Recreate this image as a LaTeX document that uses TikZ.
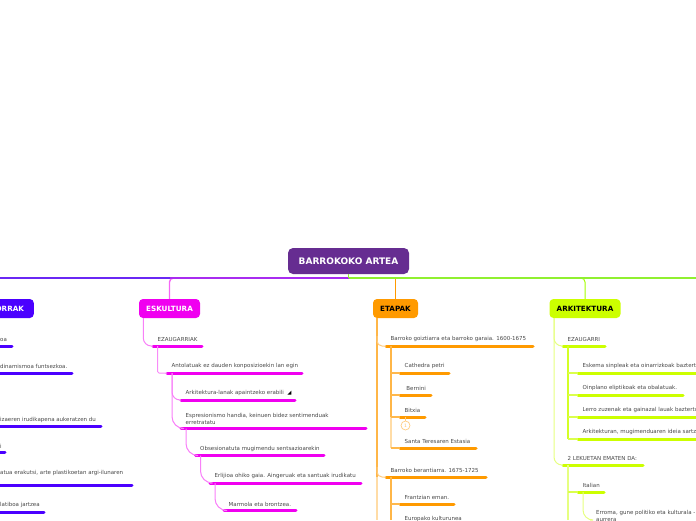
\documentclass[tikz,border=0pt]{standalone}
\usepackage{fontspec}
\setmainfont{DejaVu Sans}
\definecolor{vio}{HTML}{4B00FF}
\definecolor{mag}{HTML}{F000F0}
\definecolor{ora}{HTML}{FF9A00}
\definecolor{lim}{HTML}{CCFF00}
\definecolor{pur}{HTML}{662D91}
\definecolor{topblue}{HTML}{6A28F4}
\definecolor{toppur}{HTML}{A82CF0}
\definecolor{topgreen}{HTML}{90F030}
\definecolor{palemag}{HTML}{F88CF8}
\tikzset{
  x=1pt,y=-1pt,
  rootbox/.style={fill=pur,rounded corners=5pt,text=white,font=\fontsize{9}{10}\selectfont\bfseries,align=center,inner sep=0pt,minimum width=121pt,minimum height=26pt},
  mainbox/.style={fill=#1,rounded corners=4pt,font=\fontsize{7.2}{8}\selectfont\bfseries,inner sep=0pt,minimum height=19pt},
  lbl/.style={anchor=south west,font=\fontsize{5.5}{7}\selectfont,text=black!72,inner sep=0pt,align=left},
  bar/.style={line width=3pt,line cap=round,draw=#1},
  conn/.style={line width=1pt,draw=#1!50!white,rounded corners=8pt},
  stem/.style={line width=1.3pt,draw=#1!70!white},
  trunk/.style={line width=1.8pt,draw=#1!72!white},
  paletrunk/.style={line width=1.6pt,draw=#1!35!white}
}
\newcommand{\baritem}[6]{% name, colour, x1, x2, y, text
  \coordinate (#1a) at (#3,#5); \coordinate (#1b) at (#4,#5);
  \draw[bar=#2] (#1a) -- (#1b);
  \node[lbl] (#1t) at (#3+4.5,#5-4) {#6};
}
\newcommand{\leftitem}[4]{% name, x2, y, text
  \coordinate (#1a) at (0,#3); \coordinate (#1b) at (#2,#3);
  \draw[bar=vio] (#1a) -- (#1b);
  \node[lbl] (#1t) at (0,#3-4) {#4};
}
\begin{document}
\begin{tikzpicture}
\useasboundingbox (0,0) rectangle (696,520);
% top connectors
\coordinate (rb) at (348.5,278);
\coordinate (lft) at (0,278);
\coordinate (rgt) at (696,278);
\coordinate (mid) at (170,278);
\node[rootbox] (root) at (348.5,261) {BARROKOKO ARTEA};
\node[mainbox=vio,text=white,minimum width=48pt,anchor=east] (argi) at (34,308.5) {ORRAK};
\node[mainbox=mag,text=white,minimum width=61pt] (esk) at (169.5,308.5) {ESKULTURA};
\node[mainbox=ora,text=black,minimum width=45pt] (eta) at (395.5,308.5) {ETAPAK};
\node[mainbox=lim,text=black,minimum width=71pt] (ark) at (585,308.5) {ARKITEKTURA};
\draw[line width=1.4pt,draw=mag!60!white,rounded corners=4pt] (esk.north) |- (rb);
\draw[line width=1.2pt,draw=ora] (eta.north) -- (eta.north |- rb);
\draw[line width=1pt,draw=lim!80!green,rounded corners=4pt] (ark.north) |- (rb);
\draw[line width=1.5pt,draw=topblue] (lft) -- (mid);
\draw[line width=1.5pt,draw=toppur] (mid) -- (rb);
\draw[line width=1.5pt,draw=topgreen] (rb) -- (rgt);
\draw[line width=1.5pt,draw=topgreen] (root.south) -- (rb);
% ===== left
\leftitem{a1}{12}{346}{oa}
\leftitem{a2}{72}{373}{dinamismoa funtsezkoa.}
\leftitem{a3}{101}{426.5}{izaeren irudikapena aukeratzen du}
\leftitem{a4}{5}{452.5}{i}
\coordinate (a5a) at (0,485.5); \coordinate (a5b) at (132,485.5);
\draw[bar=vio] (a5a) -- (a5b);
\node[lbl] (a5t) at (0,475.5) {atua erakutsi, arte plastikoetan argi-ilunaren};
\leftitem{a6}{44}{512}{latiboa jartzea}
% ===== eskultura
\baritem{e1}{mag}{153}{202}{346}{EZAUGARRIAK}
\baritem{e2}{mag}{167}{302}{373}{Antolatuak ez dauden konposizioekin lan egin}
\baritem{e3}{mag}{181}{295}{400}{Arkitektura-lanak apaintzeko erabili\ \ \tikz[x=1pt,y=1pt]\fill[black] (0,0)--(4,0)--(4,4)--cycle;}
\baritem{e4}{mag}{181}{366}{428.5}{Espresionismo handia, keinuen bidez sentimenduak\\erretratatu}
\baritem{e5}{mag}{195.5}{324}{455.5}{Obsesionatuta mugimendu sentsazioarekin}
\baritem{e6}{mag}{210}{361}{483}{Erlijioa ohiko gaia. Aingeruak eta santuak irudikatu}
\baritem{e7}{mag}{224}{296}{510.5}{Marmola eta brontzea.}
\draw[conn=mag] (esk.south west) ++(4.5,0) |- (e1a);
\draw[line width=1pt,draw=palemag,rounded corners=1.5pt] (e1a) ++(4.5,0) |- (e2a);
\draw[conn=mag] (e2a) ++(5,0) |- (e3a);
\draw[conn=mag,rounded corners=12pt] (e2a) ++(5,0) |- (e4a);
\draw[conn=mag,rounded corners=12pt] (e4a) ++(5,0) |- (e5a);
\draw[conn=mag,rounded corners=12pt] (e5a) ++(5,0) |- (e6a);
\draw[conn=mag,rounded corners=12pt] (e6a) ++(5,0) |- (e7a);
% ===== etapak
\baritem{t1}{ora}{386}{533}{346}{Barroko goiztiarra eta barroko garaia. 1600-1675}
\baritem{t2}{ora}{400}{449}{373}{Cathedra petri}
\baritem{t3}{ora}{400}{431}{395}{\ Bernini}
\baritem{t4}{ora}{400}{425}{417}{Bitxia}
\baritem{t5}{ora}{400}{476}{448}{Santa Teresaren Estasia}
\baritem{t6}{ora}{386}{486}{477}{Barroko berantiarra. 1675-1725}
\baritem{t7}{ora}{400}{454}{504}{Frantzian eman.}
\node[lbl] (t8t) at (404.5,522) {Europako kulturunea};
\coordinate (etatop) at (377,318);
\coordinate (etamid) at (377,477);
\coordinate (etabot) at (377,520);
\coordinate (sa) at (391,346);
\coordinate (sb) at (391,417);
\coordinate (sc) at (391,448);
\coordinate (sd) at (391,477);
\coordinate (se) at (391,520);
\coordinate (s2) at (391,373);
\coordinate (s3) at (391,395);
\coordinate (s7) at (391,504);
\draw[trunk=ora] (etatop) -- (etamid);
\draw[paletrunk=ora] (etamid) -- (etabot);
\draw[conn=ora,rounded corners=5pt] (377,336) |- (t1a);
\draw[conn=ora,rounded corners=5pt] (377,467) |- (t6a);
\draw[trunk=ora] (sa) -- (sb);
\draw[paletrunk=ora] (sb) -- (sc);
\draw[trunk=ora] (sd) -- (se);
\draw[stem=ora] (s2) -- (t2a);
\draw[stem=ora] (s3) -- (t3a);
\draw[stem=ora] (sb) -- (t4a);
\draw[stem=ora] (sc) -- (t5a);
\draw[stem=ora] (s7) -- (t7a);
\node[circle,draw=ora!50!white,line width=.7pt,minimum size=9pt,inner sep=0pt,text=ora!60!white,font=\fontsize{4.5}{5}\selectfont] (badge) at (405.5,425.5) {1};
\draw[line width=.7pt,draw=ora!50!white] (badge.north) -- (badge.north |- t4a);
% ===== arkitektura
\baritem{k1}{lim}{563}{605}{346}{EZAUGARRI}
\baritem{k2}{lim}{578}{700}{373}{Eskema sinpleak eta oinarrizkoak baztertu}
\baritem{k3}{lim}{578}{683}{395}{Oinplano eliptikoak eta obalatuak.}
\baritem{k4}{lim}{578}{700}{417}{Lerro zuzenak eta gainazal lauak baztertu}
\baritem{k5}{lim}{578}{700}{439}{Arkitekturan, mugimenduaren ideia sartzen}
\baritem{k6}{lim}{563}{643}{465}{2 LEKUETAN EMATEN DA:}
\baritem{k7}{lim}{578}{604}{492}{Italian}
\node[lbl] (k8t) at (596,522) {Erroma, gune politiko eta kulturala -\\aurrera};
\coordinate (ktop) at (554,318);
\coordinate (ka) at (568,346);
\coordinate (kb) at (568,439);
\coordinate (kc) at (568,465);
\coordinate (kbot) at (568,520);
\coordinate (k2s) at (568,373);
\coordinate (k3s) at (568,395);
\coordinate (k4s) at (568,417);
\coordinate (k7s) at (568,492);
\coordinate (k8c) at (590,520);
\draw[conn=lim] (ktop) |- (k6a);
\draw[conn=lim] (ktop) |- (k1a);
\draw[line width=1.8pt,draw=lim!85!white] (ka) -- (kb);
\draw[stem=lim] (k2s) -- (k2a);
\draw[stem=lim] (k3s) -- (k3a);
\draw[stem=lim] (k4s) -- (k4a);
\draw[stem=lim] (kb) -- (k5a);
\draw[line width=1.4pt,draw=lim!50!white] (kc) -- (kbot);
\draw[stem=lim] (k7s) -- (k7a);
\draw[conn=lim,rounded corners=10pt] (k7a) ++(5,0) |- (k8c);
\end{tikzpicture}
\end{document}
